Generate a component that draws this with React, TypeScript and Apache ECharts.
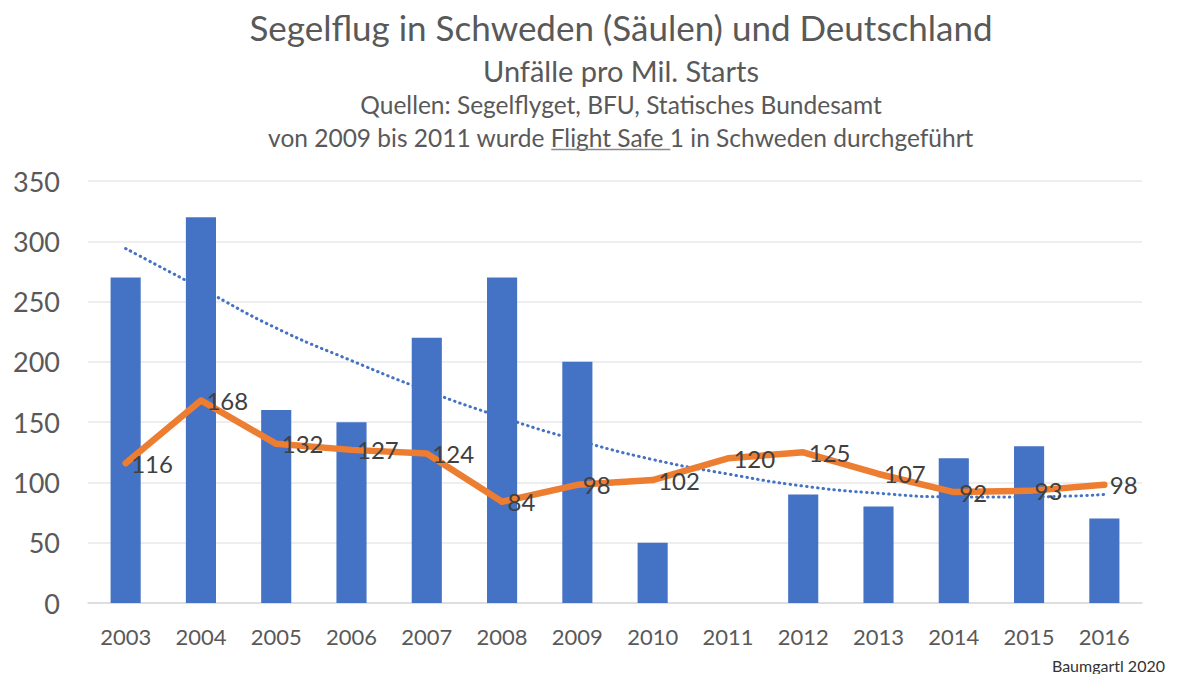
import React, { useEffect, useRef } from "react";
import * as echarts from "echarts";

const years = ["2003","2004","2005","2006","2007","2008","2009","2010","2011","2012","2013","2014","2015","2016"];
const sweden = [270, 320, 160, 150, 220, 270, 200, 50, null, 90, 80, 120, 130, 70];
const germany = [116, 168, 132, 127, 124, 84, 98, 102, 120, 125, 107, 92, 93, 98];
const swedenTrend = [294, 261, 228, 201, 176, 154, 135, 119, 107, 97, 91, 88, 88, 90];
const yTicks = { min: 0, max: 350, interval: 50 };

const titleLine1 = "Segelflug in Schweden (Säulen) und Deutschland";
const titleLine2 = "Unfälle pro Mil. Starts";
const titleLine3 = "Quellen: Segelflyget, BFU, Statisches Bundesamt";
const line4Pre = "von 2009 bis 2011 wurde ";
const line4Under = "Flight Safe ";
const line4Post = "1 in Schweden durchgeführt";
const credit = "Baumgartl 2020";

const FONT = "Lato, 'Open Sans', sans-serif";

function measure(text: string, size: number): number {
  const c = document.createElement("canvas");
  const ctx = c.getContext("2d");
  if (!ctx) return text.length * size * 0.5;
  ctx.font = `${size}px Lato`;
  return ctx.measureText(text).width;
}

export default function App() {
  const ref = useRef<HTMLDivElement>(null);
  useEffect(() => {
    document.body.style.margin = "0";
    document.body.style.overflow = "hidden";
    if (!ref.current) return;
    const chart = echarts.init(ref.current, undefined, { renderer: "svg" });

    const cx = 621;
    const s4 = 24.5;
    const full = measure(line4Pre + line4Under + line4Post, s4);
    const pre = measure(line4Pre, s4);
    const und = measure(line4Under, s4);
    const x0 = cx - full / 2;

    const grey = "#595959";

    chart.setOption({
      animation: false,
      backgroundColor: "#ffffff",
      textStyle: { fontFamily: FONT },
      grid: { left: 88, right: 42, top: 181, bottom: 71 },
      xAxis: {
        type: "category",
        data: years,
        axisLine: { show: true, lineStyle: { color: "#d9d9d9", width: 1.5 } },
        axisTick: { show: false },
        axisLabel: { color: grey, fontSize: 22, margin: 22, fontFamily: FONT },
      },
      yAxis: {
        type: "value",
        min: yTicks.min,
        max: yTicks.max,
        interval: yTicks.interval,
        axisLine: { show: false },
        axisTick: { show: false },
        axisLabel: { color: grey, fontSize: 27, margin: 28, fontFamily: FONT },
        splitLine: { lineStyle: { color: "#e8e8e8", width: 1.5 } },
      },
      series: [
        {
          name: "Trend Schweden",
          type: "line",
          data: swedenTrend,
          smooth: true,
          symbol: "none",
          z: 1,
          lineStyle: { color: "#4472C4", width: 3, type: [0.5, 5], cap: "round" },
        },
        {
          name: "Schweden",
          type: "bar",
          data: sweden,
          barWidth: "40%",
          z: 2,
          itemStyle: { color: "#4472C4" },
        },
        {
          name: "Deutschland",
          type: "line",
          data: germany,
          symbol: "circle",
          symbolSize: 1,
          showSymbol: true,
          z: 3,
          itemStyle: { color: "rgba(0,0,0,0)" },
          lineStyle: { color: "#ED7D31", width: 6.5, cap: "round", join: "round" },
          label: {
            show: true,
            position: "right",
            distance: 5,
            fontSize: 24,
            color: "#404040",
            fontFamily: FONT,
          },
        },
      ],
      graphic: [
        {
          type: "text",
          x: cx,
          y: 27,
          style: { text: titleLine1, fontSize: 35, fontFamily: FONT, fill: grey, textAlign: "center", textVerticalAlign: "middle" },
        },
        {
          type: "text",
          x: cx,
          y: 70,
          style: { text: titleLine2, fontSize: 29, fontFamily: FONT, fill: grey, textAlign: "center", textVerticalAlign: "middle" },
        },
        {
          type: "text",
          x: cx,
          y: 104,
          style: { text: titleLine3, fontSize: 24.5, fontFamily: FONT, fill: grey, textAlign: "center", textVerticalAlign: "middle" },
        },
        {
          type: "text",
          x: x0,
          y: 137,
          style: { text: line4Pre + line4Under + line4Post, fontSize: s4, fontFamily: FONT, fill: grey, textAlign: "left", textVerticalAlign: "middle" },
        },
        {
          type: "line",
          shape: { x1: x0 + pre, y1: 149.5, x2: x0 + pre + und, y2: 149.5 },
          style: { stroke: "#8c8c8c", lineWidth: 1.5 },
        },
        {
          type: "text",
          x: 1165,
          y: 665,
          style: { text: credit, fontSize: 16, fontFamily: FONT, fill: "#333333", textAlign: "right", textVerticalAlign: "middle" },
        },
      ],
    });
    return () => chart.dispose();
  }, []);
  return <div ref={ref} style={{ width: 1184, height: 674 }} />;
}
